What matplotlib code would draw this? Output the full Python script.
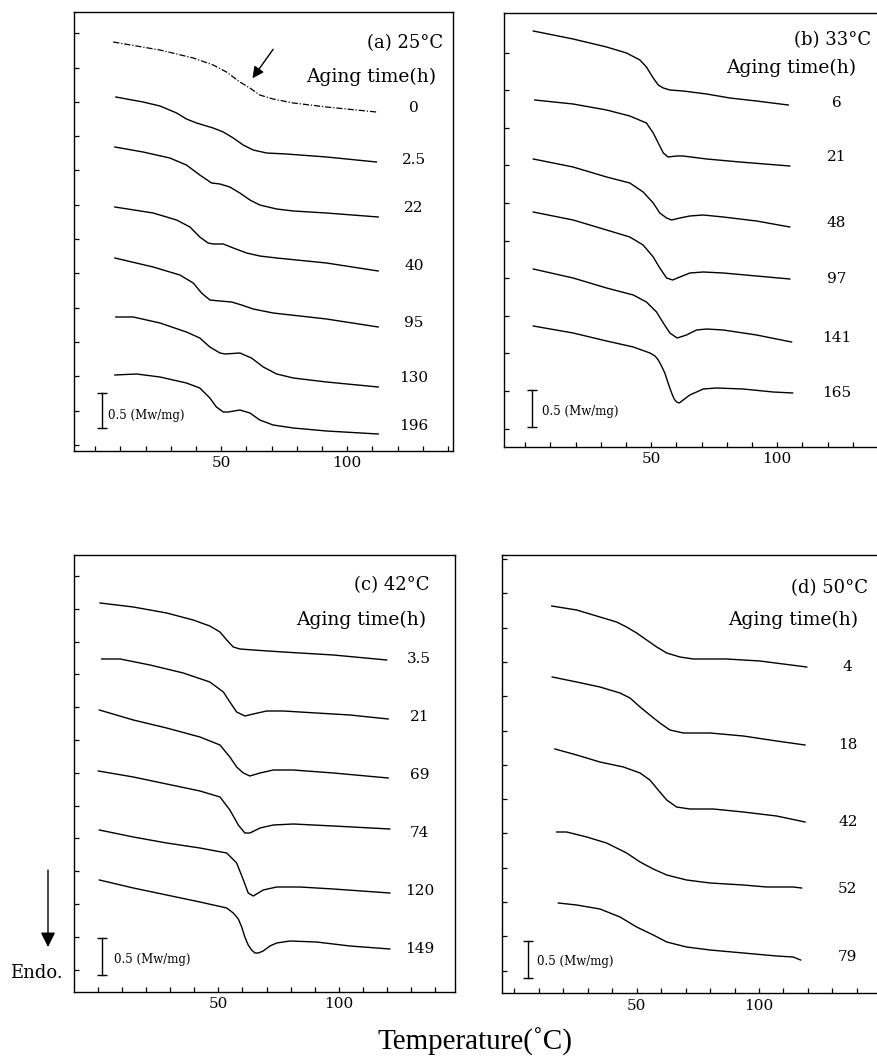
import numpy as np
import matplotlib
matplotlib.use("Agg")
import matplotlib.pyplot as plt

plt.rcParams['font.family'] = ['DejaVu Serif']

# ---------------- data (Temperature in degC, endothermic heat flow in a.u., offset per trace) ----
# Panel (a) 25 C
a_labels = ["0", "2.5", "22", "40", "95", "130", "196"]
a_0_T = [7.1, 25.7, 38.9, 46.8, 52.1, 57.4, 61.4, 65.3, 70.6, 78.6, 91.8, 111.6]
a_0_V = [4.2, 5.0, 5.8, 6.5, 7.2, 8.2, 8.8, 9.5, 9.9, 10.3, 10.7, 11.2]
a_1_T = [8.2, 19.0, 25.7, 32.3, 36.2, 40.2, 46.8, 50.8, 54.8, 58.7, 62.7, 68.0, 75.9, 91.8, 111.6]
a_1_V = [9.7, 10.2, 10.6, 11.3, 11.9, 12.3, 12.8, 13.2, 13.8, 14.5, 15.0, 15.3, 15.4, 15.7, 16.2]
a_2_T = [7.8, 19.0, 29.6, 36.2, 41.5, 46.2, 49.5, 53.4, 57.4, 61.4, 65.3, 72.0, 78.6, 91.8, 112.3]
a_2_V = [14.7, 15.2, 15.8, 16.5, 17.5, 18.3, 18.4, 18.7, 19.3, 20.0, 20.5, 20.9, 21.1, 21.3, 21.7]
a_3_T = [7.8, 23.0, 32.3, 37.6, 41.5, 44.8, 46.8, 50.8, 54.8, 60.1, 65.3, 72.0, 91.8, 112.3]
a_3_V = [20.7, 21.3, 22.0, 22.7, 23.7, 24.3, 24.4, 24.4, 24.8, 25.3, 25.6, 25.8, 26.3, 27.1]
a_4_T = [7.8, 23.0, 33.6, 38.9, 42.2, 45.5, 49.5, 54.1, 58.1, 62.7, 70.6, 91.8, 112.3]
a_4_V = [25.8, 26.7, 27.5, 28.3, 29.3, 30.0, 30.1, 30.2, 30.5, 30.9, 31.3, 31.9, 32.7]
a_5_T = [8.2, 15.1, 25.7, 36.2, 41.5, 45.5, 49.5, 51.5, 57.4, 62.0, 66.7, 72.0, 78.6, 91.8, 112.3]
a_5_V = [31.7, 31.7, 32.3, 33.2, 33.8, 34.7, 35.3, 35.4, 35.3, 35.8, 36.7, 37.4, 37.8, 38.2, 38.7]
a_6_T = [7.8, 16.4, 25.7, 36.2, 41.5, 45.5, 48.1, 50.8, 52.8, 57.4, 61.4, 65.3, 70.6, 78.6, 91.8, 112.3]
a_6_V = [37.5, 37.4, 37.7, 38.3, 38.8, 39.8, 40.7, 41.2, 41.2, 41.0, 41.3, 42.0, 42.5, 42.8, 43.1, 43.4]
a_label_V = [10.8, 16.0, 20.8, 26.6, 32.3, 37.8, 42.6]

# Panel (b) 33 C
b_labels = ["6", "21", "48", "97", "141", "165"]
b_1_T = [3.2, 19.0, 32.3, 40.2, 45.5, 48.1, 50.8, 52.8, 54.8, 57.4, 62.7, 72.0, 81.2, 91.8, 104.4]
b_1_V = [3.1, 3.9, 4.7, 5.3, 6.0, 6.7, 7.8, 8.5, 8.8, 9.0, 9.1, 9.4, 9.8, 10.1, 10.5]
b_2_T = [3.8, 19.0, 32.3, 41.5, 48.1, 50.8, 52.8, 54.8, 56.7, 60.1, 62.7, 72.0, 85.2, 105.0]
b_2_V = [10.0, 10.4, 11.0, 11.6, 12.3, 13.3, 14.3, 15.3, 15.7, 15.6, 15.6, 15.9, 16.2, 16.6]
b_3_T = [3.2, 19.0, 32.3, 41.5, 46.8, 50.8, 53.4, 56.1, 58.1, 61.4, 65.3, 70.6, 78.6, 91.8, 105.0]
b_3_V = [15.9, 16.7, 17.7, 18.3, 19.2, 20.3, 21.3, 21.8, 22.0, 21.8, 21.6, 21.5, 21.7, 22.1, 22.7]
b_4_T = [3.2, 19.0, 32.3, 41.5, 46.8, 50.8, 53.4, 56.1, 58.5, 61.4, 65.3, 70.6, 78.6, 91.8, 105.0]
b_4_V = [21.2, 22.0, 23.0, 23.7, 24.5, 25.7, 26.8, 27.8, 28.0, 27.7, 27.3, 27.2, 27.3, 27.6, 27.9]
b_5_T = [3.2, 19.0, 32.3, 42.9, 48.1, 52.1, 54.8, 57.4, 60.3, 64.0, 68.0, 72.0, 78.6, 91.8, 105.7]
b_5_V = [26.9, 27.8, 28.8, 29.5, 30.2, 31.2, 32.3, 33.3, 33.8, 33.5, 33.0, 32.9, 33.0, 33.5, 34.2]
b_6_T = [3.2, 19.0, 32.3, 42.9, 49.5, 51.5, 52.8, 54.1, 55.4, 56.7, 58.1, 59.1, 60.1, 61.1,
         62.7, 65.3, 68.0, 70.6, 75.9, 86.5, 98.4, 106.1]
b_6_V = [32.6, 33.3, 34.1, 34.7, 35.3, 35.6, 36.0, 36.6, 37.3, 38.3, 39.3, 39.9, 40.2, 40.3,
         40.0, 39.5, 39.2, 38.9, 38.8, 38.9, 39.2, 39.3]
b_label_V = [10.3, 15.7, 22.3, 27.9, 33.8, 39.3]

# Panel (c) 42 C
c_labels = ["3.5", "21", "69", "74", "120", "149"]
c_1_T = [1.0, 14.8, 28.6, 39.6, 46.5, 50.7, 53.5, 56.2, 59.0, 64.5, 76.9, 97.7, 119.8]
c_1_V = [4.3, 4.7, 5.3, 6.0, 6.6, 7.2, 8.0, 8.7, 8.9, 9.0, 9.2, 9.5, 10.0]
c_2_T = [1.7, 9.3, 21.7, 35.5, 46.5, 52.1, 54.8, 57.6, 61.0, 64.5, 70.0, 76.9, 90.7, 104.6, 120.4]
c_2_V = [9.9, 9.9, 10.5, 11.3, 12.2, 13.2, 14.2, 15.2, 15.6, 15.4, 15.1, 15.1, 15.3, 15.5, 15.9]
c_3_T = [0.7, 14.8, 28.6, 42.4, 50.7, 54.8, 57.6, 60.4, 63.1, 67.3, 72.8, 81.1, 97.7, 120.4]
c_3_V = [15.0, 16.0, 16.8, 17.7, 18.5, 19.7, 20.7, 21.3, 21.6, 21.3, 21.0, 21.0, 21.3, 21.8]
c_4_T = [0.3, 14.8, 28.6, 42.4, 50.7, 54.8, 58.3, 61.0, 63.1, 67.3, 72.8, 81.1, 97.7, 121.1]
c_4_V = [21.1, 21.7, 22.4, 23.1, 23.7, 25.0, 26.5, 27.3, 27.3, 26.8, 26.5, 26.4, 26.6, 26.9]
c_5_T = [0.7, 14.8, 28.6, 42.4, 53.5, 57.6, 60.4, 62.4, 64.5, 68.6, 74.2, 83.8, 97.7, 121.1]
c_5_V = [27.0, 27.7, 28.3, 28.8, 29.3, 30.3, 32.0, 33.3, 33.6, 33.0, 32.7, 32.7, 32.9, 33.3]
c_6_T = [0.7, 14.8, 28.6, 42.4, 53.5, 56.2, 58.3, 59.7, 61.0, 62.4, 63.8, 65.2, 66.6, 68.6,
         71.4, 74.2, 79.7, 90.7, 104.6, 121.1]
c_6_V = [32.0, 32.8, 33.5, 34.2, 34.8, 35.3, 35.9, 36.7, 37.7, 38.5, 39.0, 39.3, 39.3, 39.1,
         38.6, 38.3, 38.1, 38.2, 38.6, 38.9]
c_label_V = [9.9, 15.7, 21.5, 27.3, 33.1, 38.9]

# Panel (d) 50 C
d_labels = ["4", "18", "42", "52", "79"]
d_1_T = [15.3, 25.5, 35.0, 41.8, 45.9, 50.0, 54.1, 58.2, 62.3, 67.7, 73.2, 86.8, 100.4, 109.9, 119.5]
d_1_V = [4.6, 5.0, 5.7, 6.2, 6.7, 7.3, 8.0, 8.7, 9.3, 9.7, 9.9, 9.9, 10.1, 10.4, 10.7]
d_2_T = [15.5, 25.5, 35.0, 43.2, 47.3, 51.4, 55.4, 59.5, 63.6, 69.1, 80.0, 93.6, 107.2, 118.8]
d_2_V = [11.7, 12.2, 12.7, 13.3, 13.8, 14.7, 15.5, 16.3, 17.0, 17.3, 17.3, 17.6, 18.1, 18.5]
d_3_T = [16.6, 25.5, 35.0, 44.6, 51.4, 55.4, 59.5, 62.3, 66.3, 71.8, 81.3, 93.6, 107.2, 118.8]
d_3_V = [18.9, 19.5, 20.2, 20.7, 21.3, 22.0, 23.2, 24.0, 24.7, 24.9, 24.9, 25.2, 25.6, 26.2]
d_4_T = [17.3, 21.4, 29.6, 37.7, 45.9, 51.4, 56.8, 62.3, 70.4, 80.0, 93.6, 103.1, 114.0, 117.4]
d_4_V = [27.2, 27.2, 27.7, 28.3, 29.3, 30.2, 30.9, 31.5, 32.0, 32.3, 32.5, 32.7, 32.7, 32.8]
d_5_T = [18.0, 25.5, 35.0, 43.2, 50.0, 56.8, 62.3, 70.4, 80.0, 93.6, 107.2, 114.0, 117.0]
d_5_V = [34.3, 34.5, 34.9, 35.7, 36.7, 37.5, 38.2, 38.7, 39.0, 39.3, 39.6, 39.7, 40.0]
d_label_V = [10.7, 18.5, 26.2, 32.9, 39.7]

titles = ["(a) 25°C", "(b) 33°C", "(c) 42°C", "(d) 50°C"]

# ---------------- figure ----------------
W, H = 877, 1059
fig = plt.figure(figsize=(W / 100, H / 100), dpi=100)


def add_ax(l, t, r, b):
    return fig.add_axes([l / W, 1 - b / H, (r - l) / W, (b - t) / H])


panels = [
    dict(rect=(74.3, 11.7, 453.3, 450.7), xlim=(-8.3, 142.1), ylim=(45.07, 1.17),
         ytick0=3.33, ystep=3.43,
         curves=[(a_0_T, a_0_V), (a_1_T, a_1_V), (a_2_T, a_2_V), (a_3_T, a_3_V),
                 (a_4_T, a_4_V), (a_5_T, a_5_V), (a_6_T, a_6_V)],
         dashed_first=True, labels=a_labels, label_V=a_label_V, label_T=126.5,
         title_pos=(138.0, 4.33), aging_pos=(135.4, 7.67),
         bar_x=2.8, bar_y=(39.33, 42.77), bar_text=(5.2, 41.5)),
    dict(rect=(504.3, 12.7, 883.3, 446.7), xlim=(-8.3, 142.1), ylim=(44.67, 1.27),
         ytick0=5.27, ystep=3.76,
         curves=[(b_1_T, b_1_V), (b_2_T, b_2_V), (b_3_T, b_3_V), (b_4_T, b_4_V),
                 (b_5_T, b_5_V), (b_6_T, b_6_V)],
         dashed_first=False, labels=b_labels, label_V=b_label_V, label_T=123.5,
         title_pos=(137.4, 4.0), aging_pos=(131.5, 6.83),
         bar_x=2.8, bar_y=(39.0, 42.67), bar_text=(6.6, 41.1)),
    dict(rect=(74.0, 555.0, 455.0, 991.7), xlim=(-9.8, 148.1), ylim=(43.17, -0.5),
         ytick0=1.6, ystep=3.28,
         curves=[(c_1_T, c_1_V), (c_2_T, c_2_V), (c_3_T, c_3_V), (c_4_T, c_4_V),
                 (c_5_T, c_5_V), (c_6_T, c_6_V)],
         dashed_first=False, labels=c_labels, label_V=c_label_V, label_T=133.3,
         title_pos=(137.7, 2.5), aging_pos=(136.0, 6.0),
         bar_x=1.9, bar_y=(37.83, 41.5), bar_text=(6.9, 40.0)),
    dict(rect=(502.3, 555.0, 883.3, 993.3), xlim=(-4.9, 150.8), ylim=(43.33, -0.5),
         ytick0=-0.1, ystep=3.43,
         curves=[(d_1_T, d_1_V), (d_2_T, d_2_V), (d_3_T, d_3_V), (d_4_T, d_4_V),
                 (d_5_T, d_5_V)],
         dashed_first=False, labels=d_labels, label_V=d_label_V, label_T=136.3,
         title_pos=(144.7, 2.83), aging_pos=(140.6, 6.0),
         bar_x=5.7, bar_y=(38.1, 41.83), bar_text=(9.3, 40.2)),
]

axes = []
for i, p in enumerate(panels):
    ax = add_ax(*p["rect"])
    axes.append(ax)
    for j, (T, V) in enumerate(p["curves"]):
        if p["dashed_first"] and j == 0:
            ax.plot(T, V, color="black", lw=0.9, ls=(0, (5, 1.5, 1, 1.5)))
        else:
            ax.plot(T, V, color="black", lw=1.0, solid_joinstyle="round")
    for lab, v in zip(p["labels"], p["label_V"]):
        ax.text(p["label_T"], v, lab, ha="center", va="center", fontsize=11)
    ax.text(*p["title_pos"], titles[i], ha="right", va="center", fontsize=13)
    ax.text(*p["aging_pos"], "Aging time(h)", ha="right", va="center", fontsize=13.5)
    # scale bar 0.5 mW/mg
    bx = p["bar_x"]
    y0, y1 = p["bar_y"]
    ax.plot([bx, bx], [y0, y1], color="black", lw=1.0)
    ax.plot([bx, bx], [y0, y1], ls="none", marker="_", ms=7, mew=1.0, color="black")
    ax.text(*p["bar_text"], "0.5 (Mw/mg)", ha="left", va="center", fontsize=8.5)
    # ticks
    x0, x1 = p["xlim"]
    ax.set_xticks([50, 100])
    ax.set_xticklabels(["50", "100"], fontsize=11)
    ax.set_xticks([t for t in np.arange(0, 151, 10) if t not in (50, 100) and x0 < t < x1],
                  minor=True)
    lo, hi = sorted(p["ylim"])
    yt = np.arange(p["ytick0"], hi, p["ystep"])
    ax.set_yticks(yt[yt > lo])
    ax.set_yticklabels([])
    ax.tick_params(axis="both", which="both", direction="in", length=3.5, width=0.9,
                   top=False, right=False, pad=4)
    ax.set_xlim(*p["xlim"])
    ax.set_ylim(*p["ylim"])
    for s in ax.spines.values():
        s.set_linewidth(1.0)

# arrow in panel (a)
axes[0].annotate("", xy=(62.4, 7.83), xytext=(70.6, 4.93),
                 arrowprops=dict(arrowstyle="-|>", color="black", lw=1.0,
                                 mutation_scale=17, shrinkA=0, shrinkB=0))

# Endo arrow and label
fig.add_artist(matplotlib.patches.FancyArrowPatch(
    (48 / W, 1 - 870 / H), (48 / W, 1 - 947 / H), transform=fig.transFigure,
    arrowstyle="-|>", mutation_scale=22, color="black", lw=1.0, shrinkA=0, shrinkB=0))
fig.text(36 / W, 1 - 973 / H, "Endo.", ha="center", va="center", fontsize=13)

fig.text(475 / W, 1 - 1042 / H, "Temperature(˚C)", ha="center", va="center", fontsize=21,
         family=["Liberation Serif", "DejaVu Serif"])

fig.savefig("out.png", dpi=100)
